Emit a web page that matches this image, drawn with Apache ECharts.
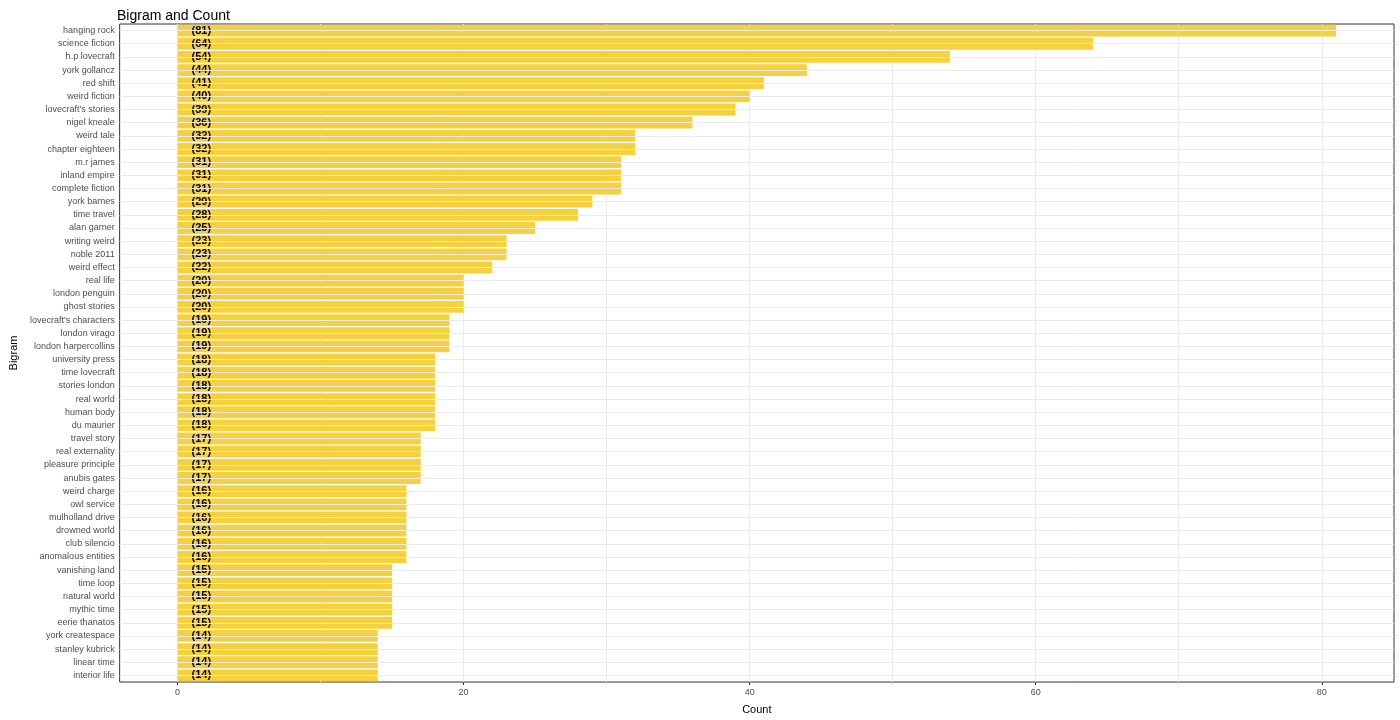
<!DOCTYPE html>
<html><head><meta charset="utf-8">
<script src="https://cdn.jsdelivr.net/npm/echarts@6/dist/echarts.min.js"></script>
<style>html,body{margin:0;padding:0;background:#fff}#c{width:1400px;height:720px}</style>
</head><body><div id="c"></div>
<script>
const bigrams = ["hanging rock","science fiction","h.p lovecraft","york gollancz","red shift","weird fiction","lovecraft's stories","nigel kneale","weird tale","chapter eighteen","m.r james","inland empire","complete fiction","york barnes","time travel","alan garner","writing weird","noble 2011","weird effect","real life","london penguin","ghost stories","lovecraft's characters","london virago","london harpercollins","university press","time lovecraft","stories london","real world","human body","du maurier","travel story","real externality","pleasure principle","anubis gates","weird charge","owl service","mulholland drive","drowned world","club silencio","anomalous entities","vanishing land","time loop","natural world","mythic time","eerie thanatos","york createspace","stanley kubrick","linear time","interior life"];
const counts = [81,64,54,44,41,40,39,36,32,32,31,31,31,29,28,25,23,23,22,20,20,20,19,19,19,18,18,18,18,18,18,17,17,17,17,16,16,16,16,16,16,15,15,15,15,15,14,14,14,14];
const xTicks = [0,20,40,60,80];
const xGrid = [0,10,20,30,40,50,60,70,80];
const chart = echarts.init(document.getElementById('c'));
chart.setOption({
  animation:false,
  title:{text:'Bigram and Count',left:112,top:4,textStyle:{fontSize:14,fontWeight:'normal',color:'#000',fontFamily:'Liberation Sans'}},
  grid:{left:116,right:6,top:24,bottom:34,show:true,borderColor:'#333',borderWidth:1,containLabel:false},
  xAxis:{type:'value',min:-4.05,max:85.05,name:'Count',nameLocation:'middle',nameGap:22,
    nameTextStyle:{fontSize:11,color:'#000',fontFamily:'Liberation Sans'},
    axisLine:{show:false},splitLine:{show:false},
    axisTick:{show:true,customValues:xTicks,length:3,lineStyle:{color:'#333'}},
    axisLabel:{customValues:xTicks,fontSize:9,color:'#4d4d4d',margin:6,fontFamily:'Liberation Sans'}},
  yAxis:{type:'category',data:bigrams,inverse:true,name:'Bigram',nameLocation:'middle',nameGap:100,nameRotate:90,
    nameTextStyle:{fontSize:11,color:'#000',fontFamily:'Liberation Sans'},
    axisLine:{show:false},axisTick:{show:true,alignWithLabel:true,length:3,lineStyle:{color:'#333'}},
    splitLine:{show:false},
    axisLabel:{fontSize:9,color:'#4d4d4d',margin:5,fontFamily:'Liberation Sans',interval:0}},
  series:[{type:'bar',data:counts,barCategoryGap:'10%',itemStyle:{color:'#F5D03F'},
    label:{show:true,position:'insideLeft',distance:14,formatter:p=>'('+p.value+')',fontSize:11,fontWeight:'bold',color:'#000',fontFamily:'Liberation Sans'},
    markLine:{silent:true,symbol:'none',label:{show:false},z:0,
      lineStyle:{color:'#ebebeb',type:'solid',width:1},
      data:xGrid.map(v=>({xAxis:v}))}},
   {type:'line',data:[],markLine:{silent:true,symbol:'none',label:{show:false},
      lineStyle:{color:'#ebebeb',type:'solid',width:1},
      data:bigrams.map(b=>({yAxis:b}))},z:0}]
});
</script></body></html>
